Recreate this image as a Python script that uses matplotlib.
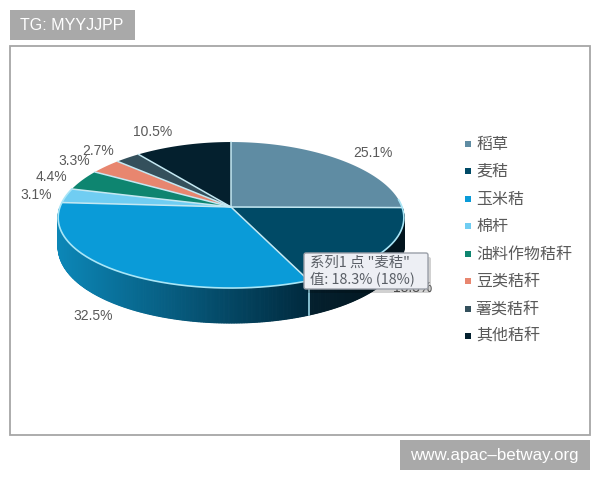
import numpy as np
import matplotlib
matplotlib.use("Agg")
import matplotlib.pyplot as plt
from matplotlib.patches import Polygon, Rectangle, FancyBboxPatch
from matplotlib.colors import to_rgb

categories = ["稻草", "麦秸", "玉米秸", "棉杆", "油料作物秸秆", "豆类秸秆", "薯类秸秆", "其他秸秆"]
values = [25.1, 18.3, 32.5, 3.1, 4.4, 3.3, 2.7, 10.5]
colors = ["#5F8CA3", "#004A66", "#0A9BD8", "#70CDF2", "#0E8570", "#E8866F", "#34505C", "#04202E"]
side_left = ["#3F6175", "#04202E", "#0C86B6", "#4FA8C8", "#0A6454", "#B5604E", "#22363F", "#021219"]
side_right = ["#3F6175", "#02141D", "#00293D", "#4FA8C8", "#0A6454", "#B5604E", "#22363F", "#021219"]
label_pos = [(373, 153), (413, 288), (93, 316), (36, 195), (51, 177), (74, 161), (98, 151), (153, 132)]
legend_y = [144, 171, 199, 226, 254, 281, 309, 336]

LATIN = ["Liberation Sans", "Noto Sans CJK SC"]
CJK = ["Noto Sans CJK SC", "Liberation Sans"]
TXT = "#595959"

fig = plt.figure(figsize=(6, 4.8), dpi=100, facecolor="white")
ax = fig.add_axes([0, 0, 1, 1])
ax.set_xlim(0, 600)
ax.set_ylim(480, 0)
ax.axis("off")

ax.add_patch(Rectangle((10, 10), 125, 30, fc="#A9A9A9", ec="none"))
ax.text(20, 25.5, "TG: MYYJJPP", color="white", fontsize=11.5, family=LATIN, va="center", ha="left")
ax.add_patch(Rectangle((400, 440), 190, 30, fc="#A9A9A9", ec="none"))
ax.text(410, 455.5, "www.apac\u2013betway.org", color="white", fontsize=12.2, family=LATIN, va="center", ha="left")
ax.add_patch(Rectangle((9.5, 45.5), 580, 389, fc="white", ec="#A6A6A6", lw=1.3))

cx, cy, rx, ry = 231, 207, 171, 73
kx, ky = 0.15, 0.11
RIM = "#A9E6F7"
SPOKE = "#C4E8F2"


def rim(t):
    c = np.cos(t)
    return cx + rx * np.sin(t) * (1 - kx * c), cy - ry * c * (1 - ky * c)


def depth(t):
    return 28 * (1 - 0.25 * np.cos(t))


fracs = np.array(values) / 100.0
edges = np.concatenate([[0], np.cumsum(fracs)])
edges = edges / edges[-1] * 2 * np.pi

# side wall
for i in range(len(values)):
    a = max(edges[i], np.pi / 2)
    b = min(edges[i + 1], 3 * np.pi / 2)
    if b <= a:
        continue
    n = max(int((b - a) * 120), 2)
    ts = np.linspace(a, b, n + 1)
    cl, cr = np.array(to_rgb(side_left[i])), np.array(to_rgb(side_right[i]))
    xa, xb = rim(a)[0], rim(b)[0]
    for t0, t1 in zip(ts[:-1], ts[1:]):
        x0, y0 = rim(t0)
        x1, y1 = rim(t1)
        m = np.clip((0.5 * (x0 + x1) - xb) / max(xa - xb, 1e-6), 0, 1)
        col = cl + (cr - cl) * m
        ax.add_patch(Polygon([(x0, y0), (x1, y1), (x1, y1 + depth(t1)), (x0, y0 + depth(t0))],
                             fc=col, ec=col, lw=0.8, zorder=2))

# top surface
for i in range(len(values)):
    ts = np.linspace(edges[i], edges[i + 1], 80)
    xs, ys = rim(ts)
    pts = [(cx, cy)] + list(zip(xs, ys))
    ax.add_patch(Polygon(pts, closed=True, fc=colors[i], ec="none", zorder=3))

# spokes
for e in edges[:-1]:
    x, y = rim(e)
    ax.plot([cx, x], [cy, y], color=SPOKE, lw=1.1, zorder=4, solid_capstyle="round")

# bright front rim
front = np.linspace(np.pi / 2 - 0.1, edges[4], 300)
ax.plot(*rim(front), color=RIM, lw=1.2, zorder=4)

# seam between wheat and corn walls
xb, yb = rim(edges[2])
ax.plot([xb, xb], [yb, yb + depth(edges[2])], color=RIM, lw=1.1, zorder=4)

for v, (x, y) in zip(values, label_pos):
    ax.text(x, y, f"{v}%", color=TXT, fontsize=10, family=LATIN, ha="center", va="center", zorder=4)

for c, name, y in zip(colors, categories, legend_y):
    ax.add_patch(Rectangle((465, y - 3), 6, 6, fc=c, ec="none"))
    ax.text(476, y, name, color=TXT, fontsize=11.5, family=CJK, ha="left", va="center")

# tooltip
ax.add_patch(FancyBboxPatch((307, 257), 124, 36, boxstyle="round,pad=0,rounding_size=2",
                            fc="#000000", ec="none", alpha=0.18, zorder=5))
ax.add_patch(FancyBboxPatch((304, 253), 124, 36, boxstyle="round,pad=0,rounding_size=2",
                            fc="#EDEFF4", ec="#9A9FA8", lw=1.0, zorder=6))
ax.text(310, 262.5, "系列1 点 \"麦秸\"", color="#5A5F66", fontsize=10.4, family=CJK, ha="left", va="center", zorder=7)
ax.text(310, 279, "值: 18.3% (18%)", color="#5A5F66", fontsize=10.4, family=CJK, ha="left", va="center", zorder=7)

fig.savefig("out.png", dpi=100, facecolor="white")
